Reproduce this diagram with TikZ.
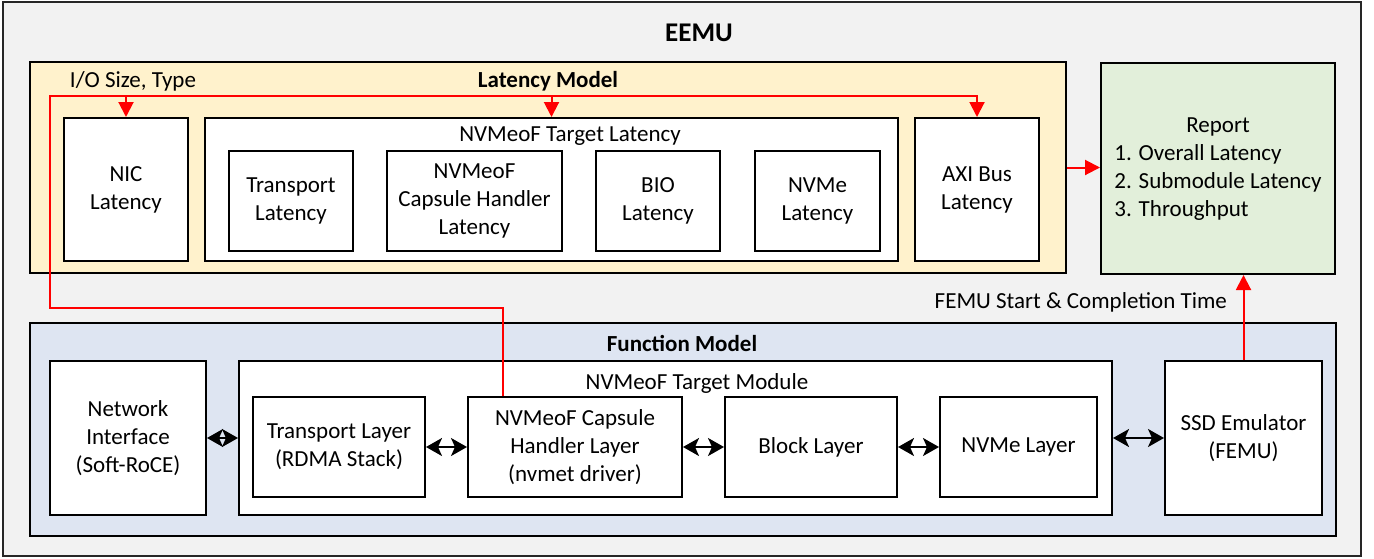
\documentclass[tikz,border=0pt]{standalone}
\usepackage{fontspec}
\setmainfont{Carlito}
\usetikzlibrary{arrows.meta,positioning}
\definecolor{eemugray}{HTML}{F2F2F2}
\definecolor{latyellow}{HTML}{FFF2CC}
\definecolor{funblue}{HTML}{DEE5F2}
\definecolor{repgreen}{HTML}{E2EFDA}
\definecolor{flowred}{HTML}{FF0000}

\begin{document}
\begin{tikzpicture}[x=0.5pt, y=-0.5pt,
  every node/.style = {font=\fontsize{11.5}{14}\selectfont, align=center},
  latbox/.style = {draw, line width=1pt, fill=white, inner sep=2pt},
  group/.style = {draw, line width=1pt},
  ttl/.style = {font=\fontsize{11.5}{14}\selectfont\bfseries},
  redline/.style = {draw=flowred, line width=1pt},
  redarrow/.style = {redline, -{Triangle[length=7.5pt,width=7.5pt]}},
  bothway/.style = {line width=1pt,
    {Stealth[length=8pt,width=9pt,inset=2pt]}-{Stealth[length=8pt,width=9pt,inset=2pt]}}]
  \useasboundingbox (0,0) rectangle (1374,558);

  % frame
  \node[group, draw=black!85, fill=eemugray, minimum width=679pt, minimum height=277pt] (eemu) at (682,279) {};
  \node[font=\fontsize{13.5}{16}\selectfont\bfseries] (eemut) at (699,33) {EEMU};

  % latency model
  \node[group, fill=latyellow, minimum width=518pt, minimum height=105.5pt] (latm) at (548,167.5) {};
  \node[ttl] (latmt) at (548,81) {Latency Model};
  \node (iolbl) at (133,81) {I/O Size, Type};
  \node[latbox, minimum width=62pt, minimum height=71.5pt] (nic) at (126,189.5) {NIC\\Latency};
  \node[latbox, minimum width=346.5pt, minimum height=71.5pt] (tgtlat) at (551.5,189.5) {};
  \node (tgtlatt) at (570,136) {NVMeoF Target Latency};
  \node[latbox, minimum width=62pt, minimum height=50pt] (trlat) at (291,201) {Transport\\Latency};
  \node[latbox, minimum width=87.5pt, minimum height=50pt] (caplat) at (474.5,201) {NVMeoF\\Capsule Handler\\Latency};
  \node[latbox, minimum width=62pt, minimum height=50pt] (biolat) at (658,201) {BIO\\Latency};
  \node[latbox, minimum width=62.5pt, minimum height=50pt] (nvmelat) at (817.5,201) {NVMe\\Latency};
  \node[latbox, minimum width=62pt, minimum height=71.5pt] (axi) at (977,189.5) {AXI Bus\\Latency};

  % report
  \node[group, fill=repgreen, minimum width=117pt, minimum height=105.5pt] (rep) at (1218,168.5)
    {\begin{tabular}{@{}l@{}}\multicolumn{1}{c}{Report}\\1. Overall Latency\\2. Submodule Latency\\3. Throughput\end{tabular}};

  % function model
  \node[group, fill=funblue, minimum width=653pt, minimum height=106.5pt] (funm) at (683,429.5) {};
  \node[ttl] (funmt) at (682,343) {Function Model};
  \node[latbox, minimum width=78pt, minimum height=77pt] (netif) at (128,438) {Network\\Interface\\(Soft-RoCE)};
  \node[latbox, minimum width=436.5pt, minimum height=77pt] (tgtmod) at (675.5,438) {};
  \node (tgtmodt) at (697,383) {NVMeoF Target Module};
  \node[latbox, minimum width=86pt, minimum height=50pt] (trl) at (339,447) {Transport Layer\\(RDMA Stack)};
  \node[latbox, minimum width=107pt, minimum height=50pt] (capl) at (575,447) {NVMeoF Capsule\\Handler Layer\\(nvmet driver)};
  \node[latbox, minimum width=86pt, minimum height=50pt] (blkl) at (811,447) {Block Layer};
  \node[latbox, minimum width=78.5pt, minimum height=50pt] (nvmel) at (1018.5,447) {NVMe Layer};
  \node[latbox, minimum width=78.5pt, minimum height=77pt] (ssd) at (1243.5,438) {SSD Emulator\\(FEMU)};

  % black links
  \draw[bothway] (netif) -- (tgtmod);
  \draw[bothway] (trl) -- (capl);
  \draw[bothway] (capl) -- (blkl);
  \draw[bothway] (blkl) -- (nvmel);
  \draw[bothway] (tgtmod) -- (ssd);

  % red feedback path
  \coordinate (redstart) at ([xshift=-36pt]capl.north);
  \coordinate (bendlow) at (50,308);
  \coordinate (bendtop) at (50,96);
  \draw[redarrow] (redstart) |- (bendlow) -- (bendtop) -| (axi.north);
  \draw[redarrow] (nic.north |- bendtop) -- (nic.north);
  \draw[redarrow] (tgtlat.north |- bendtop) -- (tgtlat.north);
  \draw[redarrow] (latm.east) -- (latm.east -| rep.west);
  \draw[redarrow] (ssd.north) -- (ssd.north |- rep.south);
  \node[anchor=east] (femulbl) at (1234,302) {FEMU Start \& Completion Time};
\end{tikzpicture}
\end{document}
